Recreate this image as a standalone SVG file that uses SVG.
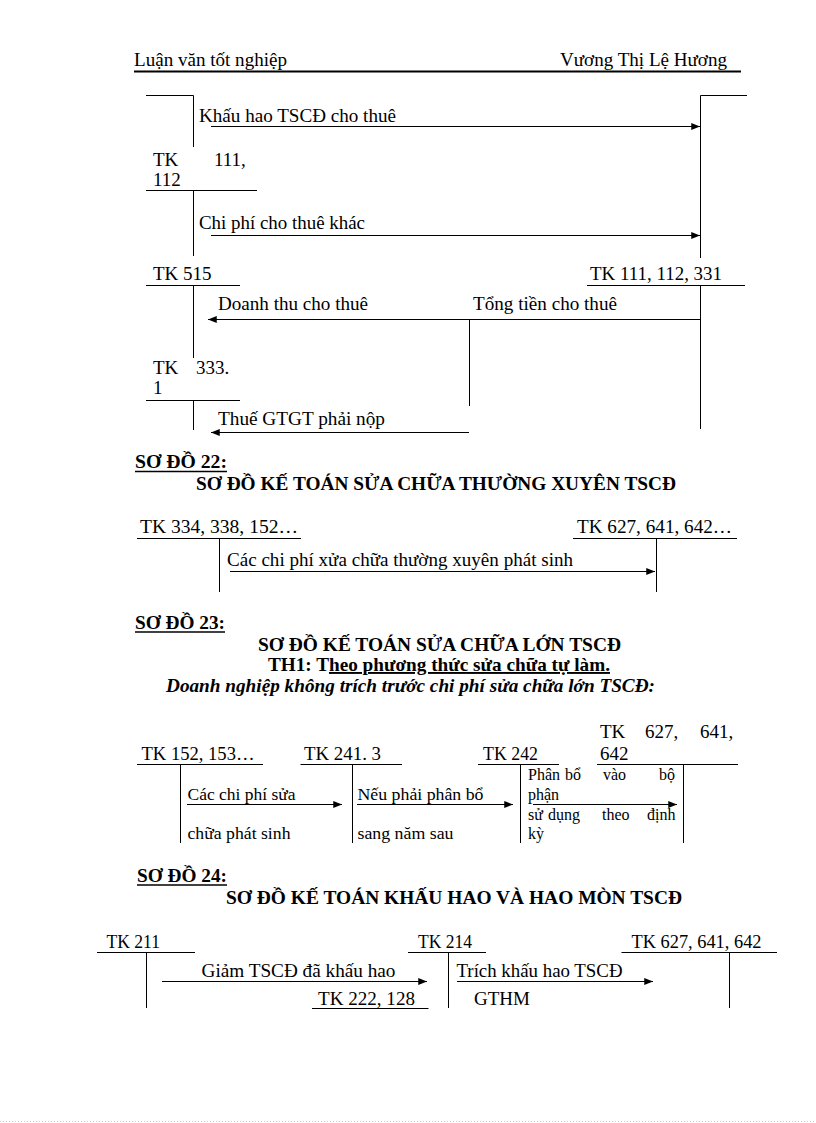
<svg xmlns="http://www.w3.org/2000/svg" width="816" height="1123" viewBox="0 0 816 1123">
<style>
text{font-family:"Liberation Serif","Times New Roman",serif;fill:#000;}
.t{font-size:19px;}
.s{font-size:17px;}
.r{font-size:16px;}
.b{font-size:19px;font-weight:bold;}
.bi{font-size:19px;font-weight:bold;font-style:italic;}
.ln{stroke:#000;stroke-width:1;fill:none;}
.ar{stroke:#000;stroke-width:1;fill:none;marker-end:url(#ah);}
.ul{stroke:#000;stroke-width:1.6;}
</style>
<defs>
<marker id="ah" viewBox="0 0 10 8" refX="10" refY="4" markerWidth="9" markerHeight="7" markerUnits="userSpaceOnUse" orient="auto">
<path d="M0,0 L10,4 L0,8 z" fill="#000"/>
</marker>
</defs>
<rect width="816" height="1123" fill="#fff"/>

<g id="header">
<text class="t" x="134" y="66" textLength="153" lengthAdjust="spacingAndGlyphs">Luận văn tốt nghiệp</text>
<text class="t" x="560" y="66" textLength="167" lengthAdjust="spacingAndGlyphs">Vương Thị Lệ Hương</text>
<line x1="134" y1="71.5" x2="741" y2="71.5" stroke="#000" stroke-width="2"/>
</g>

<!-- Section 1: leasing -->
<g id="tk-top-left">
<path class="ln" d="M146,95.5 H193.5 V147"/>
</g>
<g id="tk-111-112">
<text class="t" x="153" y="166">TK</text>
<text class="t" x="214" y="166">111,</text>
<text class="t" x="153" y="186">112</text>
<path class="ln" d="M146,190.5 H257 M193.5,190.5 V256"/>
</g>
<g id="tk-right-top">
<path class="ln" d="M747,95.5 H700.5 V258"/>
</g>
<g id="tk-515">
<text class="t" x="153" y="280">TK 515</text>
<path class="ln" d="M146,285.5 H240 M193.5,285.5 V358"/>
</g>
<g id="tk-111-112-331">
<text class="t" x="590" y="280" textLength="132" lengthAdjust="spacingAndGlyphs">TK 111, 112, 331</text>
<path class="ln" d="M587,285.5 H745 M700.5,285.5 V429"/>
</g>
<g id="tk-333-1">
<text class="t" x="153" y="374">TK</text>
<text class="t" x="196" y="374">333.</text>
<text class="t" x="153" y="394">1</text>
<path class="ln" d="M146,400.5 H240 M193.5,400.5 V430"/>
</g>
<g id="labels-1">
<text class="t" x="199" y="122" textLength="197" lengthAdjust="spacingAndGlyphs">Khấu hao TSCĐ cho thuê</text>
<text class="t" x="199" y="229" textLength="166" lengthAdjust="spacingAndGlyphs">Chi phí cho thuê khác</text>
<text class="t" x="218" y="310" textLength="150" lengthAdjust="spacingAndGlyphs">Doanh thu cho thuê</text>
<text class="t" x="473" y="310" textLength="144" lengthAdjust="spacingAndGlyphs">Tổng tiền cho thuê</text>
<text class="t" x="218" y="425" textLength="167" lengthAdjust="spacingAndGlyphs">Thuế GTGT phải nộp</text>
</g>

<!-- Section 22 -->
<g id="title-22">
<text class="b" x="135" y="468" textLength="92" lengthAdjust="spacingAndGlyphs">SƠ ĐỒ 22:</text>
<line class="ul" x1="135" y1="471.5" x2="227" y2="471.5"/>
<text class="b" x="196" y="490" textLength="480" lengthAdjust="spacingAndGlyphs">SƠ ĐỒ KẾ TOÁN SỬA CHỮA THƯỜNG XUYÊN TSCĐ</text>
</g>
<g id="tk-334-338-152">
<text class="t" x="140" y="533" textLength="158" lengthAdjust="spacingAndGlyphs">TK 334, 338, 152…</text>
<path class="ln" d="M137,538.5 H301 M219.5,538.5 V592"/>
</g>
<g id="tk-627-641-642-a">
<text class="t" x="577" y="533" textLength="155" lengthAdjust="spacingAndGlyphs">TK 627, 641, 642…</text>
<path class="ln" d="M573,538.5 H737 M656.5,538.5 V592"/>
</g>
<g id="labels-22">
<text class="t" x="227" y="566" textLength="346" lengthAdjust="spacingAndGlyphs">Các chi phí xửa chữa thường xuyên phát sinh</text>
</g>

<!-- Section 23 -->
<g id="title-23">
<text class="b" x="135" y="629" textLength="90" lengthAdjust="spacingAndGlyphs">SƠ ĐỒ 23:</text>
<line class="ul" x1="135" y1="632" x2="225" y2="632"/>
<text class="b" x="258" y="650.5" textLength="363" lengthAdjust="spacingAndGlyphs">SƠ ĐỒ KẾ TOÁN SỬA CHỮA LỚN TSCĐ</text>
<text class="b" x="268" y="671" textLength="342" lengthAdjust="spacingAndGlyphs">TH1: T<tspan text-decoration="underline">heo phương thức sửa chữa tự làm.</tspan></text>
<text class="bi" x="166" y="692" textLength="489" lengthAdjust="spacingAndGlyphs">Doanh nghiệp không trích trước chi phí sửa chữa lớn TSCĐ:</text>
</g>
<g id="tk-152-153">
<text class="t" x="141.5" y="760" textLength="113" lengthAdjust="spacingAndGlyphs">TK 152, 153…</text>
<path class="ln" d="M137,764.5 H263 M180.5,764.5 V843"/>
</g>
<g id="tk-241-3">
<text class="t" x="304" y="760" textLength="77" lengthAdjust="spacingAndGlyphs">TK 241. 3</text>
<path class="ln" d="M300.5,764.5 H402 M352.5,764.5 V843"/>
</g>
<g id="tk-242">
<text class="t" x="483" y="760" textLength="55" lengthAdjust="spacingAndGlyphs">TK 242</text>
<path class="ln" d="M478,764.5 H559 M520.5,764.5 V843"/>
</g>
<g id="tk-627-641-642-b">
<text class="t" x="600" y="738">TK</text>
<text class="t" x="645" y="738">627,</text>
<text class="t" x="700" y="738">641,</text>
<text class="t" x="600" y="760">642</text>
<path class="ln" d="M597,764.5 H738 M683.5,764.5 V843"/>
</g>
<g id="labels-23">
<text class="s" x="187.5" y="800" textLength="108" lengthAdjust="spacingAndGlyphs">Các chi phí sửa</text>
<text class="s" x="187.5" y="839" textLength="103" lengthAdjust="spacingAndGlyphs">chữa phát sinh</text>
<text class="s" x="357.5" y="800" textLength="126" lengthAdjust="spacingAndGlyphs">Nếu phải phân bổ</text>
<text class="s" x="357.5" y="839" textLength="96" lengthAdjust="spacingAndGlyphs">sang năm sau</text>
<text class="r" y="780"><tspan x="528">Phân</tspan><tspan x="565">bổ</tspan><tspan x="603">vào</tspan><tspan x="659">bộ</tspan></text>
<text class="r" x="528" y="800">phận</text>
<text class="r" y="820"><tspan x="528">sử</tspan><tspan x="548">dụng</tspan><tspan x="602">theo</tspan><tspan x="647">định</tspan></text>
<text class="r" x="528" y="839">kỳ</text>
</g>

<!-- Section 24 -->
<g id="title-24">
<text class="b" x="137" y="882" textLength="90" lengthAdjust="spacingAndGlyphs">SƠ ĐỒ 24:</text>
<line class="ul" x1="137" y1="885" x2="227" y2="885"/>
<text class="b" x="226" y="904" textLength="456" lengthAdjust="spacingAndGlyphs">SƠ ĐỒ KẾ TOÁN KHẤU HAO VÀ HAO MÒN TSCĐ</text>
</g>
<g id="tk-211">
<text class="t" x="106.5" y="947.5" textLength="53.5" lengthAdjust="spacingAndGlyphs">TK 211</text>
<path class="ln" d="M97,952.5 H195 M146.5,952.5 V1008"/>
</g>
<g id="tk-214">
<text class="t" x="418" y="947.5" textLength="54" lengthAdjust="spacingAndGlyphs">TK 214</text>
<path class="ln" d="M408,952.5 H486 M448.5,952.5 V1008"/>
</g>
<g id="tk-627-641-642-c">
<text class="t" x="631.5" y="947.5" textLength="130" lengthAdjust="spacingAndGlyphs">TK 627, 641, 642</text>
<path class="ln" d="M621.5,952.5 H777 M729.5,952.5 V1008"/>
</g>
<g id="tk-222-128">
<text class="t" x="318" y="1005" textLength="97" lengthAdjust="spacingAndGlyphs">TK 222, 128</text>
<path class="ln" d="M312,1008.5 H428.5"/>
</g>
<g id="labels-24">
<text class="t" x="201.5" y="977" textLength="194" lengthAdjust="spacingAndGlyphs">Giảm TSCĐ đã khấu hao</text>
<text class="t" x="456.5" y="977" textLength="166" lengthAdjust="spacingAndGlyphs">Trích khấu hao TSCĐ</text>
<text class="t" x="474" y="1005">GTHM</text>
</g>

<g id="connectors">
<line class="ar" x1="211" y1="126.5" x2="700" y2="126.5"/>
<line class="ar" x1="211" y1="235.5" x2="700" y2="235.5"/>
<line class="ar" x1="700" y1="319.5" x2="208" y2="319.5"/>
<line class="ln" x1="469.5" y1="319.5" x2="469.5" y2="406"/>
<line class="ar" x1="469" y1="432.5" x2="211" y2="432.5"/>
<line class="ar" x1="230" y1="571.5" x2="655" y2="571.5"/>
<line class="ar" x1="187" y1="804.5" x2="342" y2="804.5"/>
<line class="ar" x1="357" y1="804.5" x2="513" y2="804.5"/>
<line class="ar" x1="533" y1="804.5" x2="677" y2="804.5"/>
<line class="ar" x1="162" y1="981.5" x2="427" y2="981.5"/>
<line class="ar" x1="457" y1="981.5" x2="653" y2="981.5"/>
</g>
<line x1="0" y1="1121.5" x2="816" y2="1121.5" stroke="#ccc" stroke-width="1" stroke-dasharray="1 2"/>
</svg>
